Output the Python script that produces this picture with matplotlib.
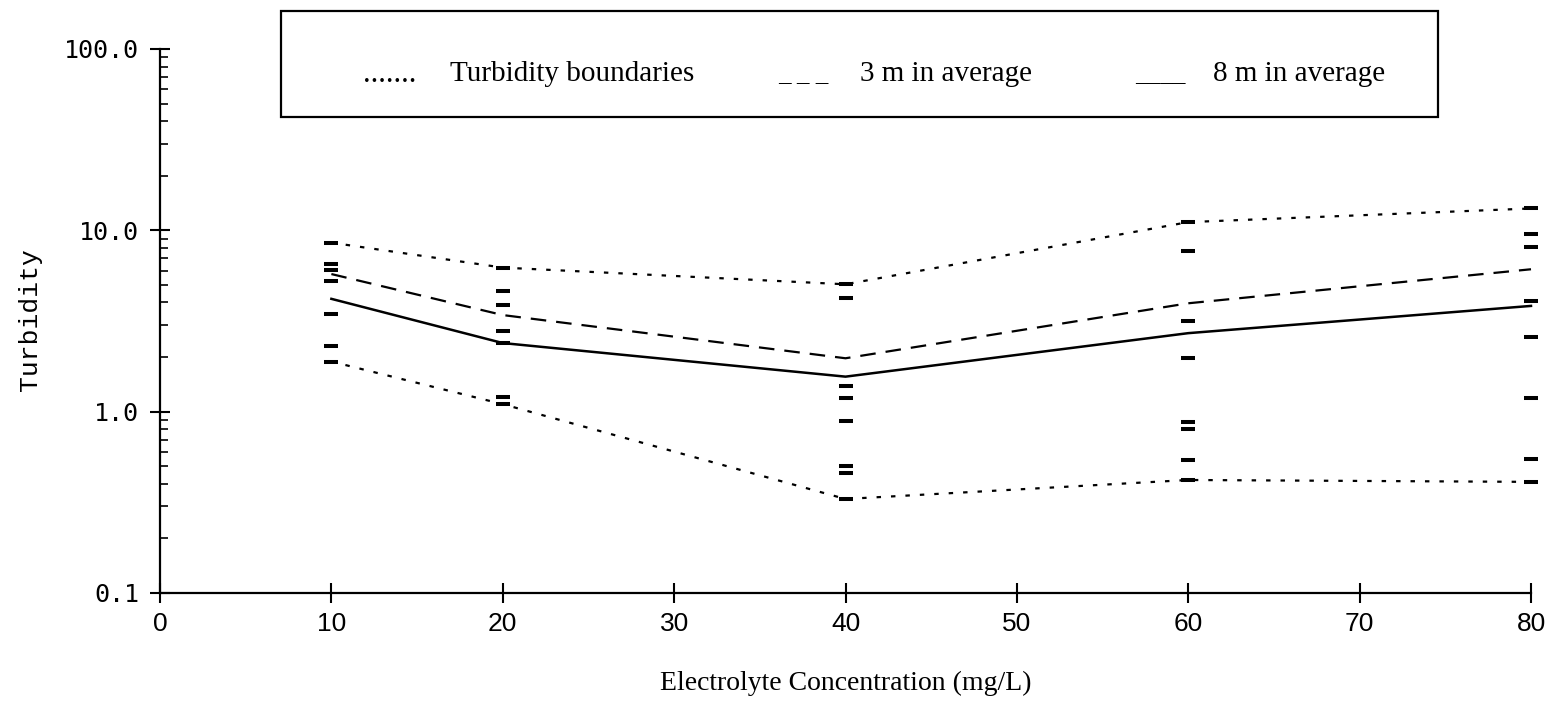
import matplotlib
matplotlib.use("Agg")
import matplotlib.pyplot as plt
from matplotlib import ticker
from matplotlib.patches import Rectangle

# electrolyte concentration (mg/L) and measured turbidity values
conc = [10, 20, 40, 60, 80]
samples = {
    10: [8.55, 6.55, 6.05, 5.28, 3.47, 2.30, 1.89],
    20: [6.23, 4.65, 3.88, 2.79, 2.39, 1.20, 1.10],
    40: [5.04, 4.25, 1.39, 1.19, 0.89, 0.50, 0.46, 0.33],
    60: [11.1, 7.73, 3.16, 1.98, 0.88, 0.80, 0.54, 0.42],
    80: [13.2, 9.52, 8.12, 4.08, 2.59, 1.19, 0.55, 0.41],
}
upper_bound = [8.55, 6.23, 5.04, 11.1, 13.2]
lower_bound = [1.89, 1.10, 0.33, 0.42, 0.41]
avg_3m = [5.74, 3.41, 1.97, 3.96, 6.10]
avg_8m = [4.19, 2.39, 1.56, 2.71, 3.83]

x_ticks = [0, 10, 20, 30, 40, 50, 60, 70, 80]
y_ticks = [0.1, 1.0, 10.0, 100.0]

W, H = 1556, 723
fig = plt.figure(figsize=(W / 100, H / 100), dpi=100)
ax = fig.add_axes([160 / W, 1 - 593 / H, (1531 - 160) / W, (593 - 49) / H])

for c in conc:
    ax.plot([c] * len(samples[c]), samples[c], linestyle='none', marker='_',
            markersize=10, markeredgewidth=2.9, color='black', clip_on=False)

ax.plot(conc, upper_bound, color='black', lw=1.6, linestyle=(0, (2, 4.5)), clip_on=False)
ax.plot(conc, lower_bound, color='black', lw=1.6, linestyle=(0, (2, 4.5)), clip_on=False)
ax.plot(conc, avg_3m, color='black', lw=1.6, linestyle=(0, (7, 4.5)), clip_on=False)
ax.plot(conc, avg_8m, color='black', lw=1.8, clip_on=False)

ax.set_yscale('log')
ax.set_xlim(0, 80)
ax.set_ylim(0.1, 100)
ax.set_xticks(x_ticks)
ax.set_yticks(y_ticks)
ax.yaxis.set_major_formatter(ticker.FuncFormatter(lambda v, p: f'{v:.1f}'))
ax.yaxis.set_minor_locator(ticker.LogLocator(base=10, subs=range(2, 10)))
ax.yaxis.set_minor_formatter(ticker.NullFormatter())

for s in ['top', 'right']:
    ax.spines[s].set_visible(False)
for s in ['left', 'bottom']:
    ax.spines[s].set_linewidth(1.6)

ax.tick_params(axis='x', which='major', direction='inout', length=15, width=1.5,
               pad=6, labelsize=19)
ax.tick_params(axis='y', which='major', direction='inout', length=14, width=1.5,
               pad=8, labelsize=18)
ax.tick_params(axis='y', which='minor', direction='in', length=6, width=1.2)
for lab in ax.get_yticklabels():
    lab.set_fontfamily('DejaVu Sans Mono')
for lab in ax.get_xticklabels():
    lab.set_fontfamily('Liberation Sans')

fig.text(30 / W, 1 - 320 / H, 'Turbidity', rotation=90, ha='center', va='center',
         fontsize=19, family='Liberation Mono')
fig.text(846 / W, 1 - 683 / H, 'Electrolyte Concentration (mg/L)', ha='center',
         va='center', fontsize=20, family='Liberation Serif')

# text legend in a framed box
fig.patches.append(Rectangle((281 / W, 1 - 117 / H), (1438 - 281) / W, (117 - 11) / H,
                             transform=fig.transFigure, fill=False, lw=1.6,
                             edgecolor='black'))
legend_y = 1 - 74 / H
for cx, txt, fs in [(390, '.......', 22), (572, 'Turbidity boundaries', 21),
                    (803, '_ _ _', 18), (946, '3 m in average', 21),
                    (1160, '____', 18), (1299, '8 m in average', 21)]:
    fig.text(cx / W, legend_y, txt, ha='center', va='center', fontsize=fs,
             family='Liberation Serif')

fig.savefig('out.png', dpi=100)
